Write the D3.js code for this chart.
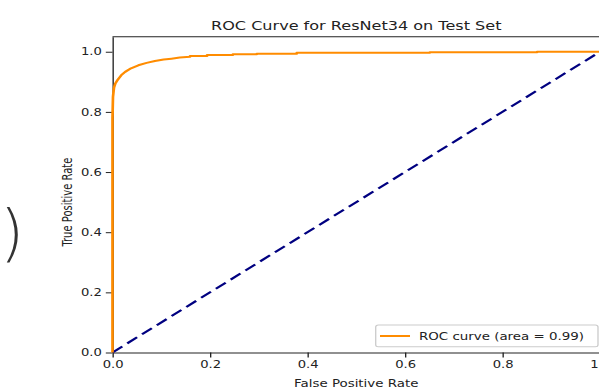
<!DOCTYPE html>
<html>
<head>
<meta charset="utf-8">
<script src="https://cdn.jsdelivr.net/npm/d3@7"></script>
<style>
  html, body { margin: 0; padding: 0; background: #fff; }
  svg { display: block; font-family: 'DejaVu Sans', sans-serif; }
</style>
</head>
<body>
<svg id="roc" width="599" height="392"></svg>
<script>
// ROC curve points
const fpr = [0, 0, 0.001, 0.003, 0.006, 0.01, 0.018, 0.026, 0.038, 0.053, 0.07, 0.087, 0.105, 0.121, 0.138,
  0.159, 0.159, 0.194, 0.194, 0.247, 0.247, 0.296, 0.296, 0.378, 0.378, 0.651, 0.651, 0.871, 0.871, 1];
const tpr = [0, 0.78, 0.85, 0.88, 0.895, 0.905, 0.922, 0.933, 0.945, 0.955, 0.963, 0.969, 0.974, 0.977, 0.9805,
  0.983, 0.986, 0.986, 0.989, 0.989, 0.9915, 0.9915, 0.9935, 0.9935, 0.9965, 0.9965, 0.998, 0.998, 1, 1];
const chanceX = [0, 1];
const chanceY = [0, 1];
const xTicks = [0, 0.2, 0.4, 0.6, 0.8, 1.0];
const yTicks = [0, 0.2, 0.4, 0.6, 0.8, 1.0];
const titleText = 'ROC Curve for ResNet34 on Test Set';
const xLabel = 'False Positive Rate';
const yLabel = 'True Positive Rate';
const legendText = 'ROC curve (area = 0.99)';

const sx = 1.34; // the screenshot is stretched sideways
const svg = d3.select('#roc');

// stray bracket from the neighbouring picture
svg.append('text')
  .attr('x', 0)
  .attr('y', 253.5)
  .attr('font-size', 62)
  .attr('font-weight', 200)
  .attr('fill', '#333')
  .text(')');

const g = svg.append('g').attr('transform', 'scale(' + sx + ',1)');

const x = d3.scaleLinear().domain([0, 1]).range([112.5 / sx, 600 / sx]);
const y = d3.scaleLinear().domain([0, 1.05]).range([352.5, 36.7]);
const fmt = d3.format('.1f');

const xAxis = g.append('g')
  .attr('transform', 'translate(0,' + y(0) + ')')
  .call(d3.axisBottom(x).tickValues(xTicks).tickFormat(fmt).tickSize(5).tickPadding(3.5).tickSizeOuter(0));
const yAxis = g.append('g')
  .attr('transform', 'translate(' + x(0) + ',0)')
  .call(d3.axisLeft(y).tickValues(yTicks).tickFormat(fmt).tickSize(5).tickPadding(3).tickSizeOuter(0));

[xAxis, yAxis].forEach(function (a) {
  a.attr('font-family', null).attr('font-size', 9.8);
  a.selectAll('text').attr('fill', '#222');
  a.selectAll('line').attr('stroke', '#222');
  a.select('.domain').attr('stroke', '#222');
});

// top and right spines
g.append('line')
  .attr('x1', x(0)).attr('x2', x(1))
  .attr('y1', y(1.05)).attr('y2', y(1.05))
  .attr('stroke', '#222');
g.append('line')
  .attr('x1', x(1)).attr('x2', x(1))
  .attr('y1', y(0)).attr('y2', y(1.05))
  .attr('stroke', '#222');

const line = d3.line()
  .x(function (d) { return x(d[0]); })
  .y(function (d) { return y(d[1]); });

g.append('path')
  .datum(d3.zip(chanceX, chanceY))
  .attr('d', line)
  .attr('fill', 'none')
  .attr('stroke', '#000080')
  .attr('stroke-width', 2)
  .attr('stroke-dasharray', '9.5,4.8');

g.append('path')
  .datum(d3.zip(fpr, tpr))
  .attr('d', line)
  .attr('fill', 'none')
  .attr('stroke', '#ff8c00')
  .attr('stroke-width', 2)
  .attr('stroke-linejoin', 'round');

g.append('text')
  .attr('x', (x(0) + x(1)) / 2)
  .attr('y', 30)
  .attr('text-anchor', 'middle')
  .attr('font-size', 12)
  .attr('fill', '#222')
  .text(titleText);

g.append('text')
  .attr('x', (x(0) + x(1)) / 2)
  .attr('y', 387)
  .attr('text-anchor', 'middle')
  .attr('font-size', 10)
  .attr('fill', '#222')
  .text(xLabel);

g.append('text')
  .attr('transform', 'translate(' + (71.5 / sx) + ',' + y(0.5) + ') rotate(-90)')
  .attr('text-anchor', 'middle')
  .attr('font-size', 10)
  .attr('fill', '#222')
  .text(yLabel);

// legend, lower right
const lg = g.append('g');
lg.append('rect')
  .attr('x', 375.7 / sx)
  .attr('y', 325)
  .attr('width', (598 - 375.7) / sx)
  .attr('height', 21.7)
  .attr('rx', 2)
  .attr('fill', '#fff')
  .attr('fill-opacity', 0.8)
  .attr('stroke', '#cccccc');
lg.append('line')
  .attr('x1', 380 / sx).attr('x2', 410 / sx)
  .attr('y1', 336).attr('y2', 336)
  .attr('stroke', '#ff8c00')
  .attr('stroke-width', 2);
lg.append('text')
  .attr('x', 419 / sx)
  .attr('y', 339.8)
  .attr('font-size', 10)
  .attr('fill', '#222')
  .text(legendText);
</script>
</body>
</html>
